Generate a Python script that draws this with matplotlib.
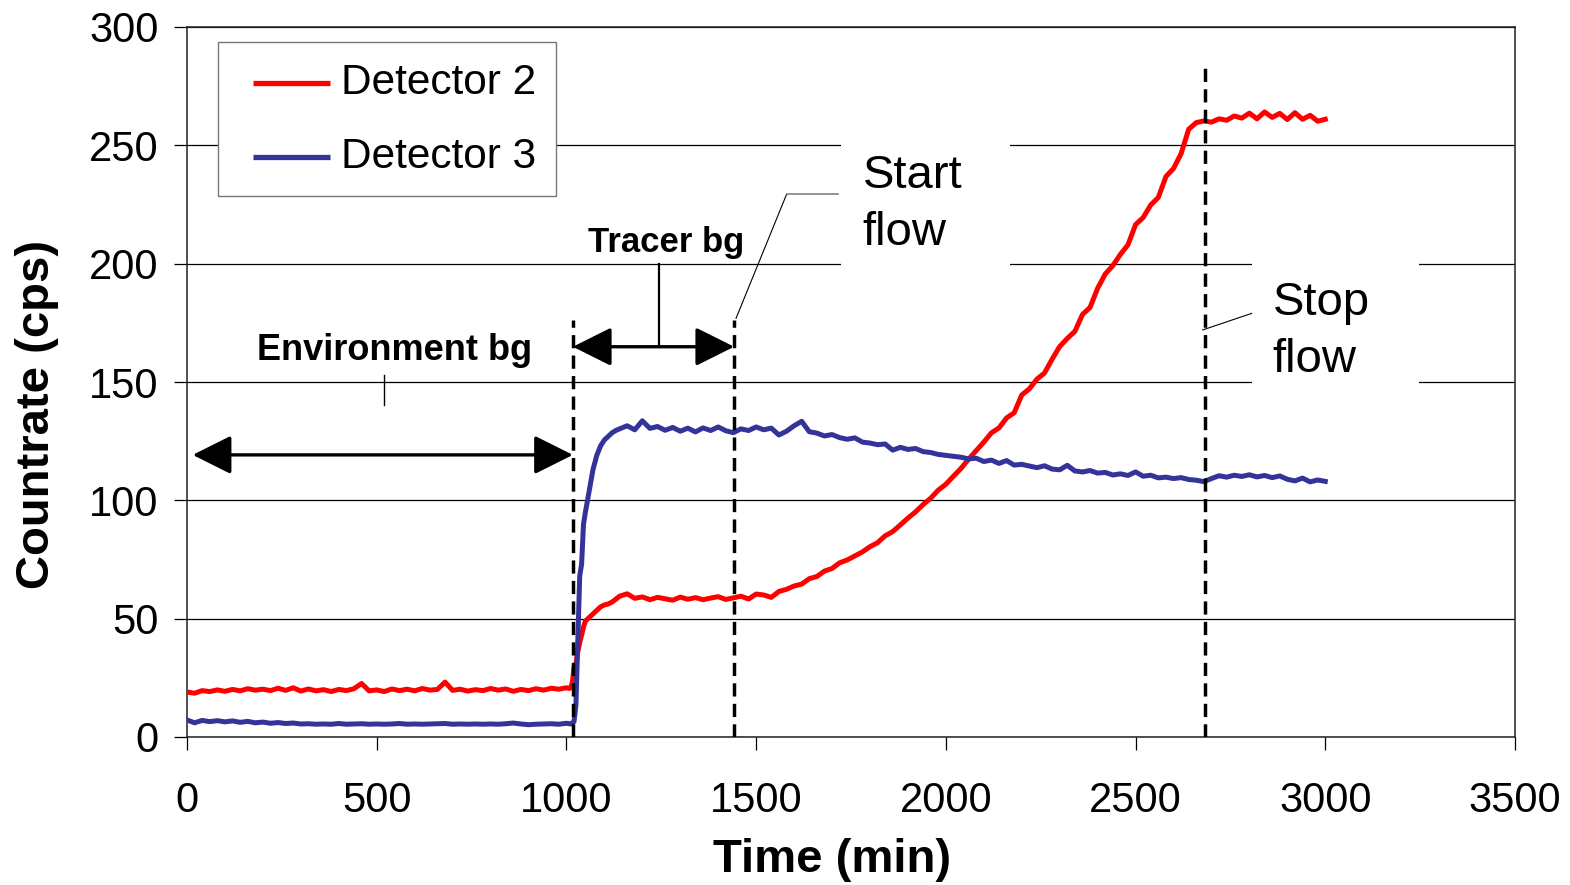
import numpy as np
import matplotlib
matplotlib.use('Agg')
import matplotlib.pyplot as plt
from matplotlib.patches import Rectangle

plt.rcParams['font.family'] = ['Liberation Sans', 'DejaVu Sans']

# ---------------- data ----------------
time_pre = np.arange(0, 1001, 20)
time_rise = [1008, 1012, 1016, 1020, 1025, 1030, 1035, 1040, 1045, 1050,
             1060, 1070, 1080, 1090, 1100, 1110, 1120, 1130]
time_post = np.arange(1140, 3001, 20)

det2_pre = [19.0, 18.5, 19.6, 19.2, 19.9, 19.3, 20.1, 19.5, 20.4, 19.8,
            20.2, 19.6, 20.6, 19.7, 20.8, 19.4, 20.3, 19.5, 20.0, 19.2,
            20.1, 19.6, 20.4, 22.6, 19.5, 19.9, 19.2, 20.3, 19.6, 20.2,
            19.5, 20.5, 19.8, 20.1, 23.2, 19.7, 20.2, 19.4, 20.0, 19.6,
            20.5, 19.8, 20.3, 19.3, 20.1, 19.6, 20.4, 19.8, 20.6, 20.2,
            20.8]
det2_rise = [20.5, 21.0, 23.5, 29.5, 31.0, 36.0, 40.0, 43.0, 46.5, 49.0,
             50.5, 52.0, 53.5, 55.0, 55.8, 56.2, 57.0, 58.2]
det2_post = [59.5, 60.5, 58.6, 59.2, 58.0, 59.0, 58.4, 57.8, 59.1, 58.2,
             58.9, 58.0, 58.7, 59.3, 58.1, 58.8, 59.5, 58.3, 60.4, 60.0,
             59.0, 61.5, 62.4, 63.8, 64.6, 66.9, 67.8, 70.1, 71.2, 73.6,
             74.8, 76.5, 78.2, 80.4, 82.1, 85.0, 86.8, 89.6, 92.5, 95.1,
             98.2, 100.9, 104.3, 106.8, 110.2, 113.5, 117.4, 121.0, 124.6, 128.5,
             130.6, 134.8, 137.0, 144.5, 147.1, 151.2, 153.8, 159.6, 165.0, 168.4,
             171.4, 178.5, 181.5, 189.6, 195.6, 199.2, 203.9, 208.0, 216.5, 219.5,
             224.8, 228.0, 236.8, 240.2, 246.5, 256.8, 259.6, 260.3, 259.8, 261.2,
             260.6, 262.4, 261.5, 263.6, 261.2, 264.1, 261.8, 263.5, 260.9, 263.8,
             261.0, 262.7, 260.2, 261.0]

det3_pre = [7.2, 6.0, 7.0, 6.5, 6.9, 6.4, 6.8, 6.2, 6.6, 6.0,
            6.3, 5.8, 6.1, 5.7, 5.9, 5.5, 5.6, 5.4, 5.5, 5.4,
            5.7, 5.4, 5.5, 5.6, 5.4, 5.5, 5.4, 5.5, 5.7, 5.4,
            5.5, 5.4, 5.5, 5.6, 5.7, 5.4, 5.5, 5.4, 5.5, 5.4,
            5.5, 5.4, 5.6, 5.9, 5.5, 5.2, 5.4, 5.5, 5.6, 5.4,
            5.8]
det3_rise = [5.6, 5.5, 5.9, 6.5, 13.5, 40.0, 68.0, 73.0, 90.0, 95.0,
             104.0, 113.0, 119.0, 123.0, 125.5, 127.0, 128.5, 129.5]
det3_post = [130.2, 131.5, 129.8, 133.6, 130.4, 131.2, 129.6, 130.8, 129.2, 130.5,
             128.9, 130.6, 129.5, 131.0, 129.4, 128.6, 130.2, 129.5, 131.0, 129.8,
             130.5, 127.6, 129.2, 131.5, 133.4, 129.0, 128.4, 127.2, 127.8, 126.5,
             125.8, 126.4, 124.6, 124.2, 123.5, 123.8, 121.2, 122.4, 121.5, 121.9,
             120.6, 120.2, 119.4, 119.0, 118.6, 118.2, 117.5, 117.8, 116.4, 117.0,
             115.6, 116.8, 114.9, 115.2, 114.5, 113.8, 114.6, 113.2, 112.9, 114.8,
             112.4, 112.0, 112.6, 111.5, 111.8, 110.7, 111.2, 110.5, 112.0, 110.2,
             110.6, 109.5, 109.8, 109.2, 109.6, 108.8, 108.5, 107.9, 109.2, 110.4,
             109.8, 110.6, 110.1, 110.8, 109.9, 110.5, 109.6, 110.3, 108.9, 108.2,
             109.4, 107.8, 108.6, 108.0]

series_names = ['Detector 2', 'Detector 3']
series_colors = ['#FF0000', '#333399']

event_times = [1017, 1442, 2683]          # start/stop markers (min)
event_tops = [176, 176, 284]
x_ticks = [0, 500, 1000, 1500, 2000, 2500, 3000, 3500]
y_ticks = [0, 50, 100, 150, 200, 250, 300]

time = np.concatenate([time_pre, time_rise, time_post])
det2 = np.concatenate([det2_pre, det2_rise, det2_post])
det3 = np.concatenate([det3_pre, det3_rise, det3_post])

# ---------------- figure ----------------
W, H = 1570, 885
fig = plt.figure(figsize=(W / 100, H / 100), dpi=100)
L, R, T, B = 187, 1515, 27, 737
ax = fig.add_axes([L / W, 1 - B / H, (R - L) / W, (B - T) / H])
ax.set_xlim(0, 3500)
ax.set_ylim(0, 300)
ax.set_xticks(x_ticks)
ax.set_yticks(y_ticks)
ax.set_axisbelow(True)
ax.yaxis.grid(True, color='black', lw=0.9)
for s in ax.spines.values():
    s.set_color('#222222')
    s.set_linewidth(1.1)
ax.tick_params(axis='both', direction='out', length=9.5, width=0.9,
               labelsize=30, colors='black')
ax.tick_params(axis='x', pad=22)
ax.tick_params(axis='y', pad=11)

# white label backgrounds that break the gridlines
ax.add_patch(Rectangle((1724, 165), 445, 97, facecolor='white',
                       edgecolor='none', zorder=1))
ax.add_patch(Rectangle((2806, 140), 442, 75, facecolor='white',
                       edgecolor='none', zorder=1))

# data
ax.plot(time, det2, color=series_colors[0], lw=3.6, zorder=3)
ax.plot(time, det3, color=series_colors[1], lw=3.6, zorder=3)

# event dashed lines
for xt, top in zip(event_times, event_tops):
    ax.plot([xt, xt], [0, top], color='black', lw=2.5, zorder=4,
            dashes=(3.8, 2.1), solid_capstyle='butt', dash_capstyle='butt')

# range arrows
arrow_kw = dict(arrowstyle='<|-|>,head_length=0.4,head_width=0.2',
                mutation_scale=60, lw=2.4, color='black',
                shrinkA=0, shrinkB=0)
ax.annotate('', xy=(15, 119.2), xytext=(1017, 119.2),
            arrowprops=arrow_kw, zorder=5)
ax.annotate('', xy=(1017, 164.9), xytext=(1442, 164.9),
            arrowprops=arrow_kw, zorder=5)
ax.plot([518, 518], [140.3, 153.0], color='black', lw=1.0, zorder=5)
ax.plot([1244, 1244], [164.9, 199.9], color='black', lw=1.6, zorder=5)

ax.text(548, 159.3, 'Environment bg', fontsize=26, fontweight='bold',
        ha='center', va='baseline', zorder=6)
ax.text(1262, 205, 'Tracer bg', fontsize=25, fontweight='bold',
        ha='center', va='baseline', zorder=6)

# leader lines
ax.plot([1447, 1580.5], [176.9, 229.4], color='black', lw=0.8, zorder=5)
ax.plot([1580.5, 1716.5], [229.4, 229.4], color='#808080', lw=1.2, zorder=5)
ax.plot([2677, 2806], [172, 179], color='black', lw=0.8, zorder=5)

ax.text(1781, 231.8, 'Start', fontsize=34, ha='left', va='baseline', zorder=6)
ax.text(1781, 207.9, 'flow', fontsize=34, ha='left', va='baseline', zorder=6)
ax.text(2861, 178.3, 'Stop', fontsize=34, ha='left', va='baseline', zorder=6)
ax.text(2861, 154.3, 'flow', fontsize=34, ha='left', va='baseline', zorder=6)

# legend (drawn in axes fraction)
def axf(px, py):
    return ((px - L) / (R - L), (B - py) / (B - T))

x0, y1 = axf(218, 42)
x1, y0 = axf(556, 196)
ax.add_patch(Rectangle((x0, y0), x1 - x0, y1 - y0, transform=ax.transAxes,
                       facecolor='white', edgecolor='#777777', lw=1.0,
                       zorder=7))
for i, (name, col) in enumerate(zip(series_names, series_colors)):
    lx0, ly = axf(253, 83 + i * 74)
    lx1, _ = axf(330, 83)
    tx, _ = axf(341, 83)
    ax.plot([lx0, lx1], [ly, ly], transform=ax.transAxes, color=col,
            lw=3.8, zorder=8, solid_capstyle='butt')
    ax.text(tx, ly, name, transform=ax.transAxes, fontsize=30.5,
            ha='left', va='center', zorder=8)

# axis titles
fig.text(37 / W, 1 - 414 / H, 'Countrate (cps)', rotation=90, fontsize=34,
         fontweight='bold', ha='center', va='center')
fig.text(832 / W, 1 - 872 / H, 'Time (min)', fontsize=34, fontweight='bold',
         ha='center', va='baseline')

fig.savefig('out.png', dpi=100)
